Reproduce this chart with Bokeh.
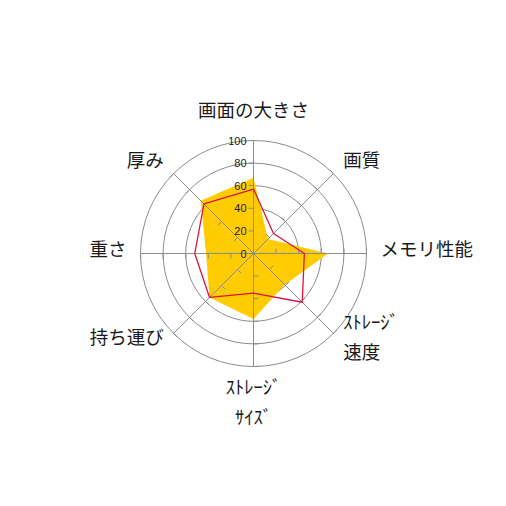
import numpy as np
from bokeh.plotting import figure
from bokeh.embed import file_html
from bokeh.resources import INLINE
from bokeh.core.properties import value

# axes, clockwise from the top
labels = ["画面の大きさ", "画質", "メモリ性能", "ｽﾄﾚｰｼﾞ\n速度",
          "ｽﾄﾚｰｼﾞ\nｻｲｽﾞ", "持ち運び", "重さ", "厚み"]
serie_a = [67, 18, 66, 39, 58, 55, 42, 66]   # amarillo (relleno)
serie_b = [57, 25, 45, 61, 35, 55, 52, 62]   # rojo (linea)
ticks = [0, 20, 40, 60, 80, 100]
anillos = [40, 60, 80, 100]

PX = 113 / 100          # pixeles por unidad
k = 1 / PX              # unidades por pixel
W = 490
C = 253                 # centro en pixeles desde la esquina

n = len(labels)
ang = np.pi / 2 - np.arange(n) * 2 * np.pi / n
cs, sn = np.cos(ang), np.sin(ang)

p = figure(width=W, height=W, x_range=(-C * k, (W - C) * k), y_range=(-(W - C) * k, C * k),
           output_backend="svg", toolbar_location=None, min_border=0)
p.axis.visible = False
p.grid.visible = False
p.outline_line_color = None
p.background_fill_color = "white"

gris = "#8c8c8c"

# anillos
for t in anillos:
    p.circle(0, 0, radius=t, fill_color=None, line_color=gris, line_width=1)

# serie amarilla
va = np.array(serie_a, dtype=float)
p.patch(list(va * cs), list(va * sn), fill_color="#FFCC00", line_color=None)

# ejes radiales
p.segment(x0=[0] * n, y0=[0] * n, x1=list(100 * cs), y1=list(100 * sn),
          line_color=gris, line_width=1)

# marcas de escala
tl = 5 * k
mx0, my0, mx1, my1 = [], [], [], []
for i in range(n):
    for t in ticks[1:]:
        bx, by = t * cs[i], t * sn[i]
        mx0.append(bx)
        my0.append(by)
        mx1.append(bx - sn[i] * tl)
        my1.append(by + cs[i] * tl)
p.segment(x0=mx0, y0=my0, x1=mx1, y1=my1, line_color=gris, line_width=1)

# serie roja
vb = np.array(serie_b, dtype=float)
p.line(list(np.append(vb * cs, vb[0] * cs[0])), list(np.append(vb * sn, vb[0] * sn[0])),
       line_color="#DC143C", line_width=1.3)

# etiquetas de escala
p.text(x=[-7 * k] * len(ticks), y=ticks, text=[str(t) for t in ticks],
       text_align="right", text_baseline="middle", text_font_size="11px",
       text_font=value("Liberation Sans"), text_color="#222222")

# etiquetas de categorias
R = 131
RX = 127
lh = 30
tx, ty, tt, ta = [], [], [], []
for i, lab in enumerate(labels):
    lines = lab.split("\n")
    h = 15 + (len(lines) - 1) * lh
    c, s = cs[i], sn[i]
    if abs(c) < 0.01:
        al = "center"
        off = 6 + np.sign(s) * (R + h / 2)
        xe = 0
    else:
        al = "left" if c > 0 else "right"
        off = 6 + np.sign(s) * (R * abs(s) - 4) if abs(s) > 0.01 else 6
        xe = RX * c
    # off: desplazamiento vertical (pixeles, hacia arriba positivo)
    for j, ln in enumerate(lines):
        yline = off - (j - (len(lines) - 1) / 2) * lh
        tx.append(xe * k)
        ty.append(yline * k)
        tt.append(ln)
        ta.append(al)
for al in ["left", "right", "center"]:
    idx = [m for m in range(len(tt)) if ta[m] == al]
    p.text(x=[tx[m] for m in idx], y=[ty[m] for m in idx], text=[tt[m] for m in idx],
           text_align=al, text_baseline="middle", text_font_size="18.5px",
           text_font=value("Noto Sans CJK JP"), text_color="#1a1a1a")

open("out.html", "w").write(file_html(p, INLINE))
